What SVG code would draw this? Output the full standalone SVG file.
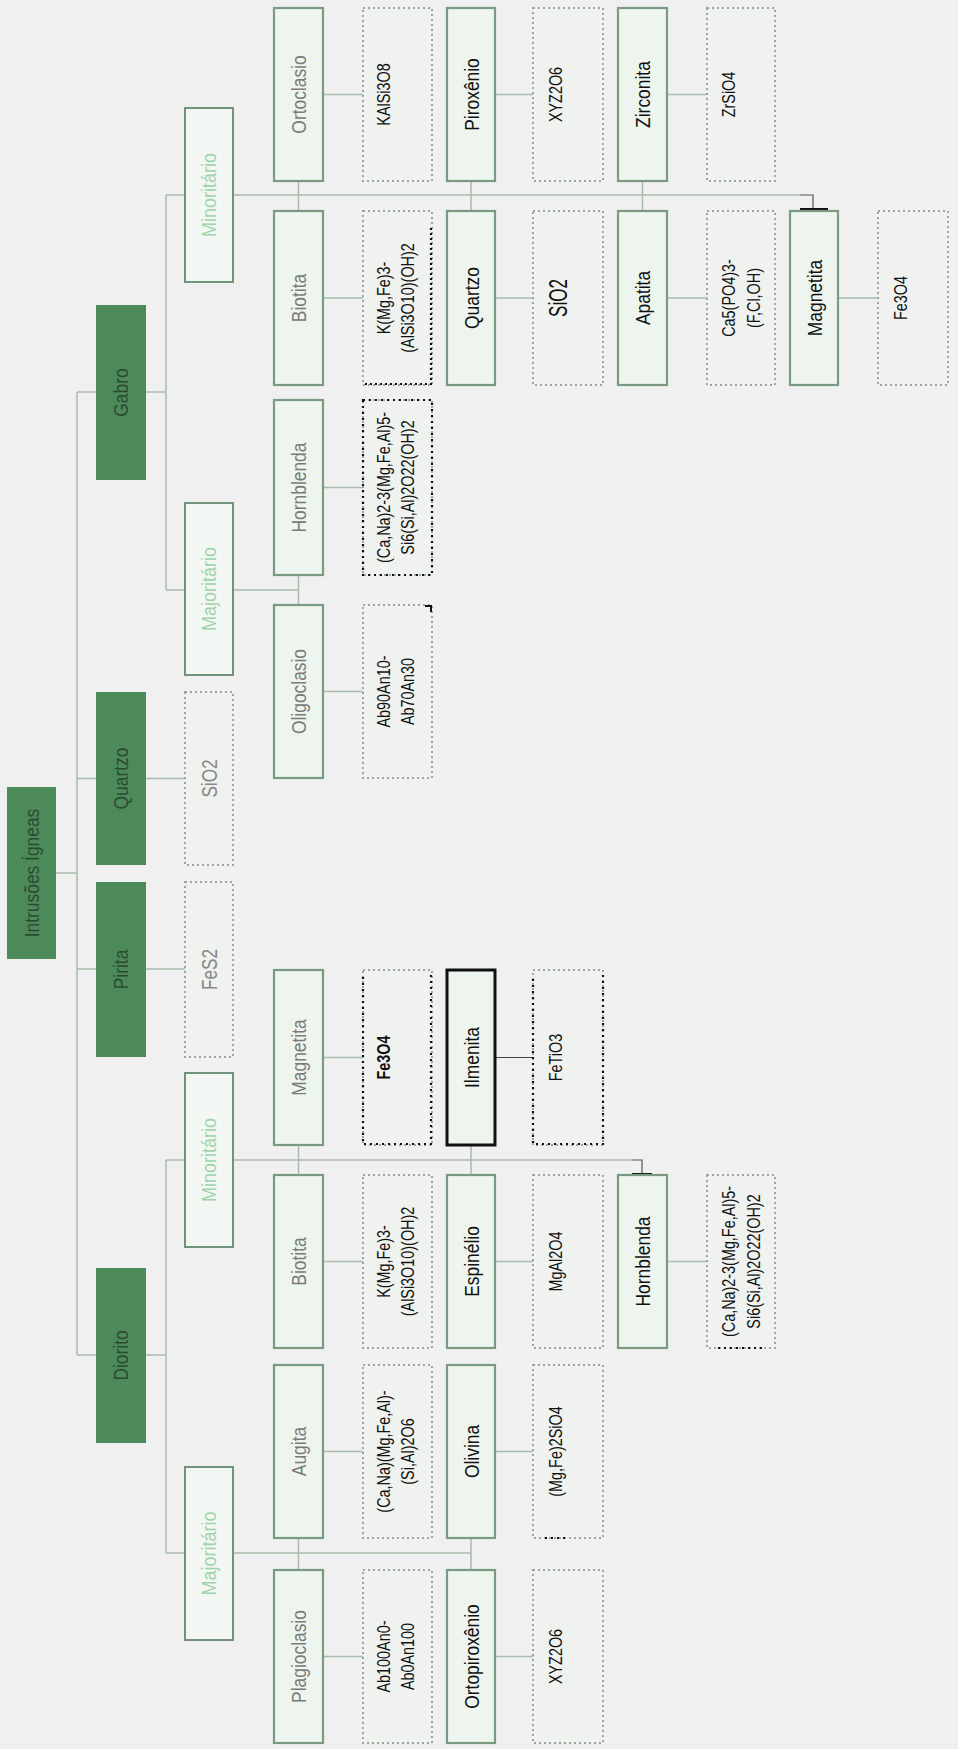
<svg xmlns="http://www.w3.org/2000/svg" width="958" height="1749" viewBox="0 0 958 1749">
<style>
text{font-family:"Liberation Sans",Arial,sans-serif;text-anchor:middle}
.root,.l1{fill:#4d8a5a}
.l2{fill:#f3f7f3;stroke:#73927a;stroke-width:2}
.min{fill:#edf5ee;stroke:#7a9a82;stroke-width:2.2}
.frm{fill:#eff2ef;stroke:#9aa69c;stroke-width:2;stroke-dasharray:2 3}
.blk{fill:none;stroke:#111;stroke-width:2.2;stroke-dasharray:2 3}
.con path{fill:none;stroke:#a7bcab;stroke-width:1.5}
.tg{font-size:20px;fill:#7a7a7a}
.tb{font-size:21px;fill:#111}
.tf{font-size:18px;fill:#111}
.tl1{font-size:20px;fill:#2c4a32}
.tl2{font-size:20px;fill:#9fd3a9}
.tgf{font-size:22px;fill:#888}
</style>
<rect width="958" height="1749" fill="#f0f0f0"/>

<g class="con" id="connectors">
<path d="M56,873 H77 M77,392 V1355 M77,392 H96 M77,778.5 H96 M77,969 H96 M77,1355 H96"/>
<path d="M146,392 H166 M166,195 V590 M166,195 H185 M166,590 H185"/>
<path d="M146,778.5 H185 M146,969 H185"/>
<path d="M146,1355 H166 M166,1160 V1553 M166,1160 H185 M166,1553 H185"/>
<path d="M233,195 H800 M298.5,181 V211 M471,181 V211 M642.5,181 V211"/>
<path d="M800,195 H813 V210" style="stroke:#555;stroke-width:1.2"/>
<path d="M800,210 H828" style="stroke:#111;stroke-width:4"/>
<path d="M233,590 H298.5 M298.5,575 V605"/>
<path d="M233,1160 H632 M298.5,1145 V1175 M471,1145 V1175"/>
<path d="M632,1160 H642 V1175" style="stroke:#555;stroke-width:1.2"/>
<path d="M632,1175 H652" style="stroke:#111;stroke-width:4"/>
<path d="M233,1553 H471 M298.5,1538 V1570 M471,1538 V1570"/>
<path d="M323,94.5 H363 M323,298 H363 M495,94.5 H533 M495,298 H533 M667,94.5 H707 M667,298 H707 M838,298 H878"/>
<path d="M323,487.5 H363 M323,691.5 H363"/>
<path d="M323,1057.5 H363 M323,1261.5 H363 M495,1261.5 H533 M667,1261.5 H707"/>
<path d="M495,1057.5 H533" style="stroke:#444;stroke-width:1"/>
<path d="M323,1451.5 H363 M323,1656.5 H363 M495,1451.5 H533 M495,1656.5 H533"/>
</g>

<g id="root"><rect class="root" x="7" y="787" width="49" height="172"/><text class="tl1" transform="translate(38.5,873) rotate(-90) scale(0.87,1)">Intrusões Ígneas</text></g>

<g id="gabro"><rect class="l1" x="96" y="305" width="50" height="175"/><text class="tl1" transform="translate(128,392.5) rotate(-90) scale(0.87,1)">Gabro</text></g>
<g id="quartzo-l1"><rect class="l1" x="96" y="692" width="50" height="173"/><text class="tl1" transform="translate(128,778.5) rotate(-90) scale(0.87,1)">Quartzo</text></g>
<g id="pirita"><rect class="l1" x="96" y="882" width="50" height="175"/><text class="tl1" transform="translate(128,969.5) rotate(-90) scale(0.87,1)">Pirita</text></g>
<g id="diorito"><rect class="l1" x="96" y="1268" width="50" height="175"/><text class="tl1" transform="translate(128,1355.5) rotate(-90) scale(0.87,1)">Diorito</text></g>

<g id="gabro-min"><rect class="l2" x="185" y="108" width="48" height="174"/><text class="tl2" transform="translate(216,195) rotate(-90) scale(0.9,1)">Minoritário</text></g>
<g id="gabro-maj"><rect class="l2" x="185" y="503" width="48" height="172"/><text class="tl2" transform="translate(216,589) rotate(-90) scale(0.9,1)">Majoritário</text></g>
<g id="sio2-l1"><rect class="frm" x="185" y="692" width="48" height="173"/><text class="tgf" transform="translate(217,778.5) rotate(-90) scale(0.78,1)">SiO2</text></g>
<g id="fes2"><rect class="frm" x="185" y="882" width="48" height="175"/><text class="tgf" transform="translate(217,969.5) rotate(-90) scale(0.78,1)">FeS2</text></g>
<g id="dio-min"><rect class="l2" x="185" y="1073" width="48" height="174"/><text class="tl2" transform="translate(216,1160) rotate(-90) scale(0.9,1)">Minoritário</text></g>
<g id="dio-maj"><rect class="l2" x="185" y="1467" width="48" height="173"/><text class="tl2" transform="translate(216,1553.5) rotate(-90) scale(0.9,1)">Majoritário</text></g>

<!-- Gabro minoritário -->
<g id="g-ortoclasio"><rect class="min" x="274" y="8" width="49" height="173"/><text class="tg" transform="translate(305.5,94.5) rotate(-90) scale(0.87,1)">Ortoclasio</text></g>
<g id="g-kalsi"><rect class="frm" x="363" y="8" width="69" height="173"/><text class="tf" transform="translate(390,94.5) rotate(-90) scale(0.8,1)">KAlSi3O8</text></g>
<g id="g-biotita"><rect class="min" x="274" y="211" width="49" height="174"/><text class="tg" transform="translate(305.5,298) rotate(-90) scale(0.87,1)">Biotita</text></g>
<g id="g-biotita-f"><rect class="frm" x="363" y="211" width="69" height="174"/><path class="blk" d="M431,228 V384 H363"/><text class="tf" transform="translate(390,298) rotate(-90) scale(0.8,1)">K(Mg,Fe)3-</text><text class="tf" transform="translate(414,298) rotate(-90) scale(0.8,1)">(AlSi3O10)(OH)2</text></g>
<g id="g-piroxenio"><rect class="min" x="447" y="8" width="48" height="173"/><text class="tb" transform="translate(478.5,94.5) rotate(-90) scale(0.83,1)">Piroxênio</text></g>
<g id="g-xyz"><rect class="frm" x="533" y="8" width="70" height="173"/><text class="tf" transform="translate(562,94.5) rotate(-90) scale(0.8,1)">XYZ2O6</text></g>
<g id="g-quartzo"><rect class="min" x="447" y="211" width="48" height="174"/><text class="tb" transform="translate(478.5,298) rotate(-90) scale(0.83,1)">Quartzo</text></g>
<g id="g-sio2"><rect class="frm" x="533" y="211" width="70" height="174"/><text class="tf" style="font-size:25px" transform="translate(567,298) rotate(-90) scale(0.68,1)">SiO2</text></g>
<g id="g-zirconita"><rect class="min" x="618" y="8" width="49" height="173"/><text class="tb" transform="translate(650,94.5) rotate(-90) scale(0.83,1)">Zirconita</text></g>
<g id="g-zrsio4"><rect class="frm" x="707" y="8" width="68" height="173"/><text class="tf" transform="translate(735,94.5) rotate(-90) scale(0.8,1)">ZrSiO4</text></g>
<g id="g-apatita"><rect class="min" x="618" y="211" width="49" height="174"/><text class="tb" transform="translate(650,298) rotate(-90) scale(0.83,1)">Apatita</text></g>
<g id="g-apatita-f"><rect class="frm" x="707" y="211" width="68" height="174"/><text class="tf" transform="translate(735,298) rotate(-90) scale(0.8,1)">Ca5(PO4)3-</text><text class="tf" transform="translate(760,298) rotate(-90) scale(0.8,1)">(F,Cl,OH)</text></g>
<g id="g-magnetita"><rect class="min" x="790" y="211" width="48" height="174"/><text class="tb" transform="translate(821.5,298) rotate(-90) scale(0.83,1)">Magnetita</text></g>
<g id="g-fe3o4"><rect class="frm" x="878" y="211" width="70" height="174"/><text class="tf" transform="translate(907,298) rotate(-90) scale(0.8,1)">Fe3O4</text></g>

<!-- Gabro majoritário -->
<g id="g-hornblenda"><rect class="min" x="274" y="400" width="49" height="175"/><text class="tg" transform="translate(305.5,487.5) rotate(-90) scale(0.87,1)">Hornblenda</text></g>
<g id="g-hornblenda-f"><rect class="frm" x="363" y="400" width="69" height="175"/><rect class="blk" x="363" y="400" width="69" height="175" style="stroke-dasharray:2 4"/><text class="tf" transform="translate(390,487.5) rotate(-90) scale(0.8,1)">(Ca,Na)2-3(Mg,Fe,Al)5-</text><text class="tf" transform="translate(414,487.5) rotate(-90) scale(0.8,1)">Si6(Si,Al)2O22(OH)2</text></g>
<g id="g-oligoclasio"><rect class="min" x="274" y="605" width="49" height="173"/><text class="tg" transform="translate(305.5,691.5) rotate(-90) scale(0.87,1)">Oligoclasio</text></g>
<g id="g-oligoclasio-f"><rect class="frm" x="363" y="605" width="69" height="173"/><path d="M425,606 H431 V612" fill="none" stroke="#111" stroke-width="2"/><text class="tf" transform="translate(390,691.5) rotate(-90) scale(0.8,1)">Ab90An10-</text><text class="tf" transform="translate(414,691.5) rotate(-90) scale(0.8,1)">Ab70An30</text></g>

<!-- Diorito minoritário -->
<g id="d-magnetita"><rect class="min" x="274" y="970" width="49" height="175"/><text class="tg" transform="translate(305.5,1057.5) rotate(-90) scale(0.87,1)">Magnetita</text></g>
<g id="d-fe3o4"><rect class="frm" x="363" y="970" width="69" height="175"/><path class="blk" d="M431,975 V1144 H363 V975" style="stroke-dasharray:2 4"/><text class="tf" style="font-weight:bold" transform="translate(390,1057.5) rotate(-90) scale(0.8,1)">Fe3O4</text></g>
<g id="d-biotita"><rect class="min" x="274" y="1175" width="49" height="173"/><text class="tg" transform="translate(305.5,1261.5) rotate(-90) scale(0.87,1)">Biotita</text></g>
<g id="d-biotita-f"><rect class="frm" x="363" y="1175" width="69" height="173"/><text class="tf" transform="translate(390,1261.5) rotate(-90) scale(0.8,1)">K(Mg,Fe)3-</text><text class="tf" transform="translate(414,1261.5) rotate(-90) scale(0.8,1)">(AlSi3O10)(OH)2</text></g>
<g id="d-ilmenita"><rect class="min" x="447" y="970" width="48" height="175" style="stroke:#111;stroke-width:3"/><text class="tb" transform="translate(478.5,1057.5) rotate(-90) scale(0.83,1)">Ilmenita</text></g>
<g id="d-fetio3"><rect class="frm" x="533" y="970" width="70" height="175"/><path class="blk" d="M603,975 V1144 H533 V975" style="stroke-dasharray:2 4"/><text class="tf" transform="translate(562,1057.5) rotate(-90) scale(0.8,1)">FeTiO3</text></g>
<g id="d-espinelio"><rect class="min" x="447" y="1175" width="48" height="173"/><text class="tb" transform="translate(478.5,1261.5) rotate(-90) scale(0.83,1)">Espinélio</text></g>
<g id="d-mgal2o4"><rect class="frm" x="533" y="1175" width="70" height="173"/><text class="tf" transform="translate(562,1261.5) rotate(-90) scale(0.8,1)">MgAl2O4</text></g>
<g id="d-hornblenda"><rect class="min" x="618" y="1175" width="49" height="173"/><text class="tb" transform="translate(650,1261.5) rotate(-90) scale(0.83,1)">Hornblenda</text></g>
<g id="d-hornblenda-f"><rect class="frm" x="707" y="1175" width="68" height="173"/><path class="blk" d="M718,1348 H762" style="stroke-dasharray:2 4"/><text class="tf" transform="translate(735,1261.5) rotate(-90) scale(0.8,1)">(Ca,Na)2-3(Mg,Fe,Al)5-</text><text class="tf" transform="translate(760,1261.5) rotate(-90) scale(0.8,1)">Si6(Si,Al)2O22(OH)2</text></g>

<!-- Diorito majoritário -->
<g id="d-augita"><rect class="min" x="274" y="1365" width="49" height="173"/><text class="tg" transform="translate(305.5,1451.5) rotate(-90) scale(0.87,1)">Augita</text></g>
<g id="d-augita-f"><rect class="frm" x="363" y="1365" width="69" height="173"/><text class="tf" transform="translate(390,1451.5) rotate(-90) scale(0.8,1)">(Ca,Na)(Mg,Fe,Al)-</text><text class="tf" transform="translate(414,1451.5) rotate(-90) scale(0.8,1)">(Si,Al)2O6</text></g>
<g id="d-plagioclasio"><rect class="min" x="274" y="1570" width="49" height="173"/><text class="tg" transform="translate(305.5,1656.5) rotate(-90) scale(0.87,1)">Plagioclasio</text></g>
<g id="d-plagioclasio-f"><rect class="frm" x="363" y="1570" width="69" height="173"/><text class="tf" transform="translate(390,1656.5) rotate(-90) scale(0.8,1)">Ab100An0-</text><text class="tf" transform="translate(414,1656.5) rotate(-90) scale(0.8,1)">Ab0An100</text></g>
<g id="d-olivina"><rect class="min" x="447" y="1365" width="48" height="173"/><text class="tb" transform="translate(478.5,1451.5) rotate(-90) scale(0.83,1)">Olivina</text></g>
<g id="d-olivina-f"><rect class="frm" x="533" y="1365" width="70" height="173"/><path class="blk" d="M545,1538 H567" style="stroke-dasharray:2 4"/><text class="tf" transform="translate(562,1451.5) rotate(-90) scale(0.8,1)">(Mg,Fe)2SiO4</text></g>
<g id="d-ortopiroxenio"><rect class="min" x="447" y="1570" width="48" height="173"/><text class="tb" transform="translate(478.5,1656.5) rotate(-90) scale(0.83,1)">Ortopiroxênio</text></g>
<g id="d-xyz"><rect class="frm" x="533" y="1570" width="70" height="173"/><text class="tf" transform="translate(562,1656.5) rotate(-90) scale(0.8,1)">XYZ2O6</text></g>
</svg>
